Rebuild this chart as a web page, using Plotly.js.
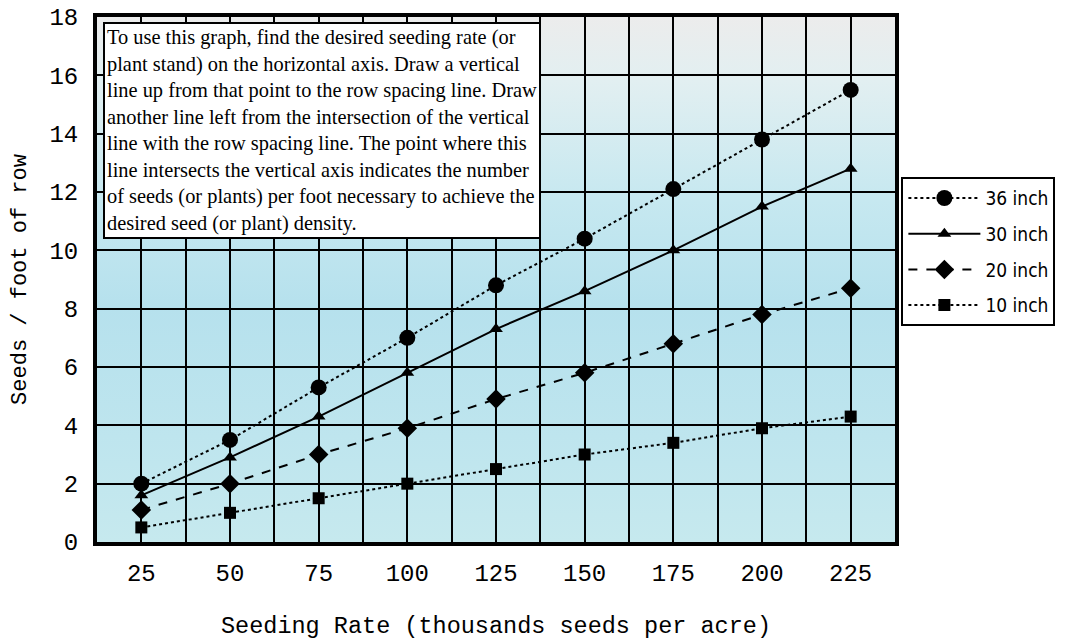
<!DOCTYPE html>
<html>
<head>
<meta charset="utf-8">
<script src="https://cdn.plot.ly/plotly-3.0.1.min.js"></script>
<style>html,body{margin:0;padding:0;background:#fff;}#chart{width:1074px;height:640px;}</style>
</head>
<body>
<div id="chart"></div>
<script>
const seedingRate = [25, 50, 75, 100, 125, 150, 175, 200, 225];
const seriesNames = ["36 inch", "30 inch", "20 inch", "10 inch"];
const inch36 = [2.0, 3.5, 5.3, 7.0, 8.8, 10.4, 12.1, 13.8, 15.5];
const inch30 = [1.6, 2.9, 4.3, 5.8, 7.3, 8.6, 10.0, 11.5, 12.8];
const inch20 = [1.1, 2.0, 3.0, 3.9, 4.9, 5.8, 6.8, 7.8, 8.7];
const inch10 = [0.5, 1.0, 1.5, 2.0, 2.5, 3.0, 3.4, 3.9, 4.3];
const xTicks = [25, 50, 75, 100, 125, 150, 175, 200, 225];
const yTicks = [0, 2, 4, 6, 8, 10, 12, 14, 16, 18];
const noteLines = [
  "To use this graph, find the desired seeding rate (or",
  "plant stand) on the horizontal axis. Draw a vertical",
  "line up from that point to the row spacing line. Draw",
  "another line left from the intersection of the vertical",
  "line with the row spacing line. The point where this",
  "line intersects the vertical axis indicates the number",
  "of seeds (or plants) per foot necessary to achieve the",
  "desired seed (or plant) density."
];

const styles = [
  {dash: "dot", symbol: "circle", size: 16},
  {dash: "solid", symbol: "triangle-up", size: 12},
  {dash: "dash", symbol: "diamond", size: 15},
  {dash: "dot", symbol: "square", size: 12}
];
const values = [inch36, inch30, inch20, inch10];

const traces = values.map((v, i) => ({
  type: "scatter",
  mode: "lines+markers",
  x: seedingRate,
  y: v,
  name: seriesNames[i],
  legendgroup: "g" + i,
  line: {color: "#000", width: 2, dash: styles[i].dash},
  marker: {color: "#000", symbol: styles[i].symbol, size: styles[i].size}
}));

const gradSvg = '<svg xmlns="http://www.w3.org/2000/svg" width="100" height="100" preserveAspectRatio="none">' +
  '<defs><linearGradient id="g" x1="0" y1="0" x2="0" y2="1">' +
  '<stop offset="0" stop-color="#ececec"/>' +
  '<stop offset="0.12" stop-color="#e2eff1"/>' +
  '<stop offset="0.35" stop-color="#c6e8f0"/>' +
  '<stop offset="0.55" stop-color="#b6e1ed"/>' +
  '<stop offset="0.8" stop-color="#bee5ee"/>' +
  '<stop offset="1" stop-color="#c6e9ee"/>' +
  '</linearGradient></defs><rect width="100" height="100" fill="url(#g)"/></svg>';
const gradUri = "data:image/svg+xml;base64," + btoa(gradSvg);

const monoFamily = "Liberation Mono, DejaVu Sans Mono, monospace";
const tickFont = {family: monoFamily, size: 24, color: "#000"};

const layout = {
  width: 1074,
  height: 640,
  margin: {l: 97, r: 179, t: 17, b: 98},
  paper_bgcolor: "#fff",
  plot_bgcolor: "#c2e6ee",
  showlegend: true,
  images: [{
    source: gradUri, xref: "paper", yref: "paper", x: 0, y: 1,
    sizex: 1, sizey: 1, sizing: "stretch", xanchor: "left", yanchor: "top", layer: "below"
  }],
  xaxis: {
    range: [12.5, 237.5],
    tickvals: xTicks,
    ticktext: xTicks.map(String),
    ticks: "",
    ticklabelstandoff: 6,
    tickfont: tickFont,
    showgrid: true, gridcolor: "#000", gridwidth: 2,
    minor: {dtick: 12.5, tick0: 0, showgrid: true, gridcolor: "#000", gridwidth: 2},
    showline: true, linecolor: "#000", linewidth: 4, mirror: true,
    zeroline: false,
    title: {text: "Seeding Rate (thousands seeds per acre)", font: {family: monoFamily, size: 23.5, color: "#000"}, standoff: 34}
  },
  yaxis: {
    range: [0, 18],
    tickvals: yTicks,
    ticktext: yTicks.map(String),
    ticks: "",
    ticklabelstandoff: 10,
    tickfont: tickFont,
    showgrid: true, gridcolor: "#000", gridwidth: 2,
    showline: true, linecolor: "#000", linewidth: 4, mirror: true,
    zeroline: false,
    title: {text: "Seeds / foot of row", font: {family: monoFamily, size: 22, color: "#000"}, standoff: 18}
  },
  legend: {
    x: 1.008, xanchor: "left", y: 0.695, yanchor: "top",
    bgcolor: "#fff", bordercolor: "#000", borderwidth: 2,
    font: {family: "Liberation Sans Narrow, DejaVu Sans Condensed, sans-serif", size: 19, color: "#000"},
    tracegroupgap: 8, itemwidth: 72
  },
  annotations: [{
    xref: "paper", yref: "paper", x: 0.008, y: 0.99, xanchor: "left", yanchor: "top",
    text: noteLines.join("<br>"), align: "left", showarrow: false,
    font: {family: "Liberation Serif, Times New Roman, serif", size: 20.4, color: "#000"},
    bgcolor: "#fff", bordercolor: "#000", borderwidth: 2, borderpad: 2
  }]
};

Plotly.newPlot("chart", traces, layout, {displayModeBar: false, staticPlot: true});
</script>
</body>
</html>
